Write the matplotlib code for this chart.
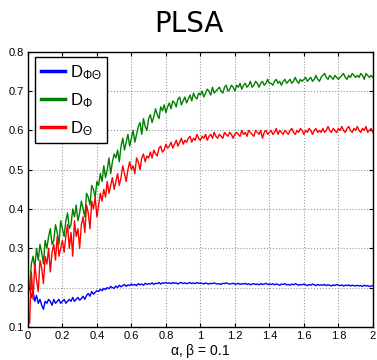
import numpy as np
import matplotlib
matplotlib.use('Agg')
import matplotlib.pyplot as plt

plt.rcParams['font.family'] = ['Liberation Sans', 'DejaVu Sans']
plt.rcParams['mathtext.fontset'] = 'custom'
plt.rcParams['mathtext.rm'] = 'Liberation Sans'
plt.rcParams['mathtext.it'] = 'Liberation Sans'

# sweep of alpha (beta fixed at 0.1)
alpha = np.round(np.arange(1, 201) * 0.01, 2)

d_phi = [
    0.20, 0.26, 0.28, 0.25, 0.30, 0.27, 0.31, 0.29, 0.26, 0.32,
    0.30, 0.33, 0.35, 0.31, 0.32, 0.36, 0.34, 0.31, 0.37, 0.35,
    0.33, 0.37, 0.39, 0.35, 0.36, 0.40, 0.38, 0.41, 0.37, 0.39,
    0.42, 0.40, 0.38, 0.44, 0.43, 0.41, 0.46, 0.45, 0.43, 0.47,
    0.46, 0.49, 0.47, 0.51, 0.48, 0.50, 0.53, 0.49, 0.52, 0.54,
    0.53, 0.55, 0.52, 0.56, 0.58, 0.55, 0.57, 0.59, 0.56, 0.58,
    0.60, 0.57, 0.59, 0.61, 0.62, 0.59, 0.63, 0.61, 0.60, 0.63,
    0.64, 0.62, 0.635, 0.655, 0.64, 0.63, 0.66, 0.65, 0.665, 0.645,
    0.66, 0.67, 0.655, 0.675, 0.67, 0.66, 0.68, 0.685, 0.665, 0.675,
    0.685, 0.67, 0.68, 0.69, 0.675, 0.695, 0.685, 0.68, 0.695, 0.69,
    0.70, 0.685, 0.695, 0.705, 0.70, 0.69, 0.71, 0.695, 0.70, 0.705,
    0.71, 0.70, 0.695, 0.71, 0.715, 0.70, 0.705, 0.715, 0.71, 0.70,
    0.715, 0.71, 0.72, 0.705, 0.715, 0.72, 0.71, 0.715, 0.725, 0.71,
    0.715, 0.725, 0.72, 0.71, 0.72, 0.725, 0.715, 0.72, 0.73, 0.72,
    0.72, 0.715, 0.725, 0.73, 0.72, 0.725, 0.715, 0.725, 0.73, 0.72,
    0.725, 0.73, 0.72, 0.725, 0.735, 0.725, 0.72, 0.73, 0.725, 0.73,
    0.735, 0.725, 0.73, 0.735, 0.725, 0.73, 0.74, 0.73, 0.725, 0.735,
    0.74, 0.745, 0.735, 0.73, 0.74, 0.735, 0.73, 0.74, 0.735, 0.73,
    0.735, 0.74, 0.745, 0.735, 0.73, 0.74, 0.735, 0.745, 0.74, 0.735,
    0.74, 0.735, 0.745, 0.74, 0.73, 0.745, 0.74, 0.735, 0.74, 0.735,
]

d_theta = [
    0.11, 0.24, 0.17, 0.26, 0.22, 0.19, 0.27, 0.25, 0.21, 0.28,
    0.26, 0.30, 0.24, 0.29, 0.31, 0.27, 0.33, 0.28, 0.30, 0.32,
    0.29, 0.33, 0.36, 0.30, 0.34, 0.28, 0.37, 0.33, 0.35, 0.30,
    0.36, 0.38, 0.34, 0.41, 0.39, 0.35, 0.42, 0.40, 0.43, 0.38,
    0.41, 0.44, 0.42, 0.45, 0.43, 0.47, 0.44, 0.46, 0.48, 0.45,
    0.47, 0.49, 0.46, 0.48, 0.51, 0.49, 0.47, 0.50, 0.52, 0.50,
    0.51, 0.49, 0.53, 0.52, 0.50, 0.53, 0.54, 0.52, 0.535, 0.53,
    0.545, 0.53, 0.55, 0.54, 0.535, 0.555, 0.56, 0.545, 0.55, 0.565,
    0.555, 0.56, 0.57, 0.555, 0.565, 0.575, 0.56, 0.57, 0.58, 0.565,
    0.575, 0.57, 0.58, 0.585, 0.57, 0.58, 0.575, 0.59, 0.58, 0.575,
    0.585, 0.58, 0.59, 0.575, 0.585, 0.59, 0.58, 0.595, 0.585, 0.58,
    0.59, 0.585, 0.58, 0.595, 0.59, 0.585, 0.595, 0.59, 0.58, 0.59,
    0.595, 0.59, 0.585, 0.60, 0.59, 0.595, 0.585, 0.60, 0.595, 0.59,
    0.585, 0.60, 0.595, 0.59, 0.60, 0.58, 0.595, 0.60, 0.59, 0.595,
    0.60, 0.59, 0.595, 0.605, 0.59, 0.60, 0.595, 0.59, 0.60, 0.595,
    0.59, 0.60, 0.605, 0.595, 0.59, 0.60, 0.595, 0.605, 0.60, 0.59,
    0.60, 0.595, 0.605, 0.60, 0.59, 0.60, 0.605, 0.595, 0.60, 0.595,
    0.605, 0.595, 0.60, 0.61, 0.60, 0.595, 0.605, 0.60, 0.595, 0.605,
    0.60, 0.61, 0.60, 0.595, 0.605, 0.61, 0.60, 0.595, 0.605, 0.60,
    0.61, 0.60, 0.595, 0.605, 0.60, 0.61, 0.595, 0.60, 0.605, 0.595,
]

d_phitheta = [
    0.20, 0.175, 0.19, 0.165, 0.18, 0.16, 0.17, 0.155, 0.145, 0.165,
    0.16, 0.17, 0.165, 0.155, 0.17, 0.16, 0.165, 0.17, 0.16, 0.165,
    0.17, 0.16, 0.165, 0.17, 0.165, 0.175, 0.165, 0.17, 0.175, 0.168,
    0.172, 0.178, 0.17, 0.18, 0.185, 0.178, 0.19, 0.183, 0.188, 0.192,
    0.19, 0.196, 0.192, 0.198, 0.195, 0.20, 0.197, 0.203, 0.20, 0.198,
    0.204, 0.20, 0.206, 0.202, 0.205, 0.208, 0.203, 0.207, 0.205, 0.209,
    0.206, 0.208, 0.205, 0.21, 0.207, 0.209, 0.206, 0.211, 0.208, 0.21,
    0.209, 0.212, 0.208, 0.211, 0.21, 0.213, 0.209, 0.212, 0.211, 0.213,
    0.211, 0.212, 0.21, 0.213, 0.211, 0.212, 0.209, 0.212, 0.213, 0.21,
    0.212, 0.21, 0.211, 0.213, 0.21, 0.212, 0.21, 0.213, 0.211, 0.211,
    0.211, 0.209, 0.212, 0.21, 0.209, 0.211, 0.21, 0.212, 0.21, 0.209,
    0.21, 0.208, 0.211, 0.21, 0.212, 0.21, 0.209, 0.21, 0.211, 0.209,
    0.209, 0.211, 0.208, 0.21, 0.209, 0.211, 0.208, 0.21, 0.207, 0.209,
    0.21, 0.208, 0.209, 0.207, 0.21, 0.208, 0.209, 0.211, 0.208, 0.209,
    0.208, 0.21, 0.207, 0.209, 0.208, 0.206, 0.209, 0.208, 0.21, 0.207,
    0.208, 0.206, 0.209, 0.207, 0.21, 0.208, 0.206, 0.208, 0.207, 0.209,
    0.207, 0.205, 0.208, 0.206, 0.209, 0.207, 0.205, 0.208, 0.206, 0.207,
    0.206, 0.208, 0.205, 0.207, 0.206, 0.204, 0.207, 0.205, 0.208, 0.206,
    0.205, 0.207, 0.204, 0.206, 0.205, 0.207, 0.204, 0.206, 0.205, 0.204,
    0.206, 0.204, 0.205, 0.203, 0.206, 0.204, 0.205, 0.203, 0.204, 0.205,
]

x_ticks = [0, 0.2, 0.4, 0.6, 0.8, 1, 1.2, 1.4, 1.6, 1.8, 2]
x_labels = ['0', '0.2', '0.4', '0.6', '0.8', '1', '1.2', '1.4', '1.6', '1.8', '2']
y_ticks = [0.1, 0.2, 0.3, 0.4, 0.5, 0.6, 0.7, 0.8]

fig = plt.figure(figsize=(3.77, 3.60), dpi=100)
ax = fig.add_axes([0.074, 0.092, 0.915, 0.764])

ax.plot(alpha, d_phitheta, color=(0, 0, 1), lw=1.0, label=r'D$_{\Phi\Theta}$')
ax.plot(alpha, d_phi, color=(0, 0.5, 0), lw=1.0, label=r'D$_{\Phi}$')
ax.plot(alpha, d_theta, color=(1, 0, 0), lw=1.0, label=r'D$_{\Theta}$')

ax.set_xlim(0, 2)
ax.set_ylim(0.1, 0.8)
ax.set_xticks(x_ticks)
ax.set_xticklabels(x_labels)
ax.set_yticks(y_ticks)
ax.tick_params(direction='in', top=True, right=True, labelsize=8, length=3, pad=3)
ax.grid(True, linestyle=':', color='#999999', lw=0.8)
for s in ax.spines.values():
    s.set_linewidth(1.0)

ax.set_xlabel(r'$\alpha$, $\beta$ = 0.1', fontsize=10, labelpad=1)

leg = ax.legend(loc='upper left', bbox_to_anchor=(0.022, 0.98), fontsize=12,
                fancybox=False, edgecolor='black', framealpha=1,
                handlelength=1.4, handletextpad=0.3, borderpad=0.35,
                labelspacing=0.55, borderaxespad=0)
leg.get_frame().set_linewidth(1.0)
for line in leg.get_lines():
    line.set_linewidth(2.5)

fig.text(0.5, 1 - 24 / 360, 'PLSA', ha='center', va='center', fontsize=20,
         family='DejaVu Sans')

fig.savefig('out.png', dpi=100)
